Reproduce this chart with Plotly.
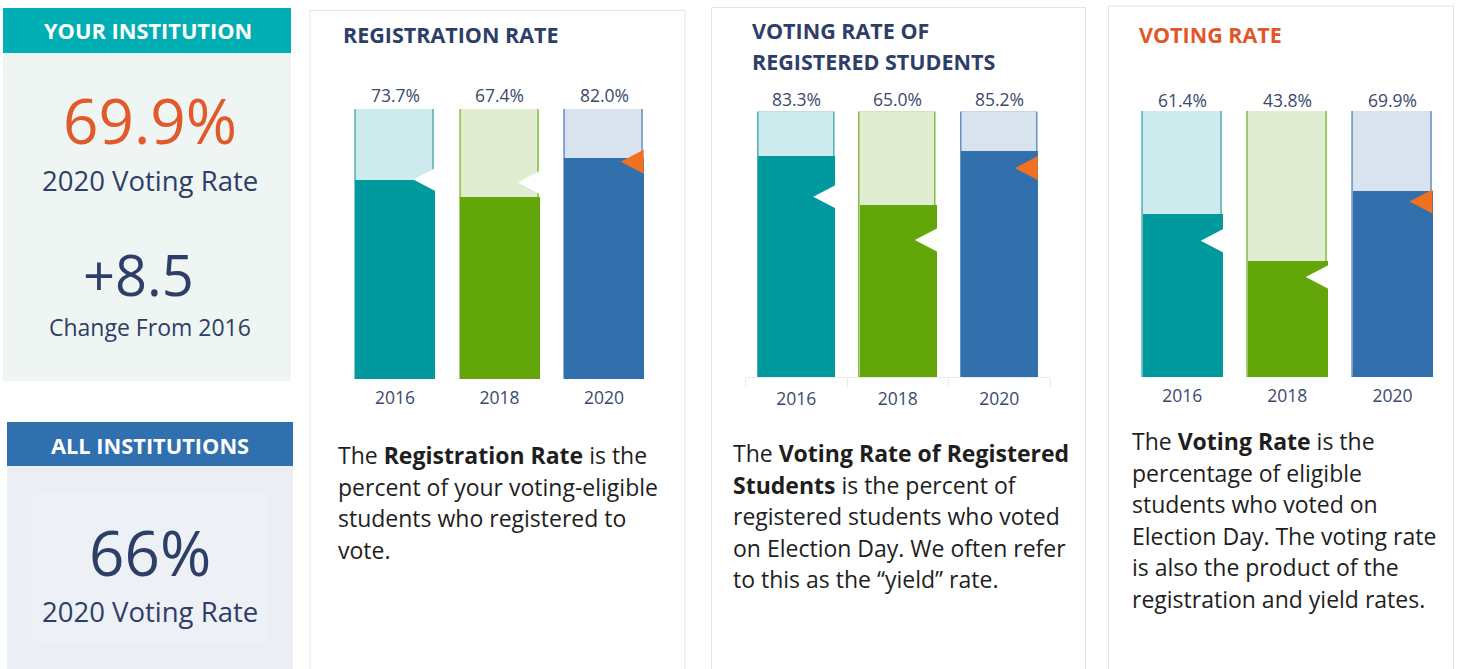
import plotly.graph_objects as go

W, H = 1458, 669

# ---------------- data ----------------
years = ["2016", "2018", "2020"]
registration_rate = [73.7, 67.4, 82.0]
yield_rate = [83.3, 65.0, 85.2]
voting_rate = [61.4, 43.8, 69.9]
# comparison markers (all institutions)
all_registration_rate = [73.9, 72.8, 80.5]
all_yield_rate = [67.9, 51.7, 78.7]
all_voting_rate = [51.3, 37.7, 66.0]
scale_max = 100

your_voting_2020 = 69.9
change_from_2016 = 8.5
all_voting_2020 = 66

# ---------------- style ----------------
FONT = "Open Sans"
DARK = ["#009A9E", "#63A60A", "#3170AC"]
LIGHT = ["#CDEAEC", "#E0EDD0", "#D8E3EE"]
EDGE = ["#45A9AE", "#7DB83A", "#5B88C0"]
ORANGE = "#F07122"
TITLE_ORANGE = "#E0582A"
NAVY = "#2D3E68"
LABEL = "#3B4A6E"
BODY = "#1E1E1E"
BAR_W = 0.75


def X(px):
    return px / W


def Y(py):
    return 1 - py / H


panels = [
    dict(vals=registration_rate, comp=all_registration_rate, xd=(342.75, 656.25), yd=(379.0, 109.0),
         lab_y=95, card=(310, 10.5, 685),
         titles=[("REGISTRATION RATE", 341, 34)], tcolor=NAVY, axisline=False,
         text_x=336, text_y0=455,
         lines=["The <b>Registration Rate</b> is the", "percent of your voting-eligible",
                "students who registered to", "vote."]),
    dict(vals=yield_rate, comp=all_yield_rate, xd=(745.5, 1050.0), yd=(377.3, 111.5),
         lab_y=99, card=(711.5, 7.5, 1085.5),
         titles=[("VOTING RATE OF", 750, 31), ("REGISTERED STUDENTS", 750, 61)], tcolor=NAVY, axisline=True,
         text_x=731, text_y0=453,
         lines=["The <b>Voting Rate of Registered</b>", "<b>Students</b> is the percent of",
                "registered students who voted", "on Election Day. We often refer",
                "to this as the \u201cyield\u201d rate."]),
    dict(vals=voting_rate, comp=all_voting_rate, xd=(1129.75, 1445.0), yd=(377.3, 111.0),
         lab_y=100, card=(1108.5, 6, 1453.5),
         titles=[("VOTING RATE", 1137, 35)], tcolor=TITLE_ORANGE, axisline=False,
         text_x=1130, text_y0=441,
         lines=["The <b>Voting Rate</b> is the", "percentage of eligible", "students who voted on",
                "Election Day. The voting rate", "is also the product of the",
                "registration and yield rates."]),
]

fig = go.Figure()
shapes = []
annotations = []


def add_text(text, x, y, size, color, bold=False, xanchor="center", yanchor="middle"):
    if bold:
        text = "<b>" + text + "</b>"
    annotations.append(dict(text=text, x=X(x), y=Y(y), xref="paper", yref="paper",
                            xanchor=xanchor, yanchor=yanchor, showarrow=False,
                            font=dict(family=FONT, size=size, color=color)))


# ---------------- left column ----------------
shapes += [
    dict(type="rect", xref="paper", yref="paper", x0=X(3), x1=X(291), y0=Y(53), y1=Y(8),
         fillcolor="#00AEB4", line=dict(width=0), layer="below"),
    dict(type="rect", xref="paper", yref="paper", x0=X(3), x1=X(291), y0=Y(381), y1=Y(53),
         fillcolor="#EFF5F2", line=dict(width=0), layer="below"),
    dict(type="rect", xref="paper", yref="paper", x0=X(7), x1=X(293), y0=Y(466), y1=Y(422),
         fillcolor="#3070AE", line=dict(width=0), layer="below"),
    dict(type="rect", xref="paper", yref="paper", x0=X(7), x1=X(293), y0=-0.01, y1=Y(466),
         fillcolor="#EBEEF3", line=dict(width=0), layer="below"),
    dict(type="rect", xref="paper", yref="paper", x0=X(33), x1=X(268), y0=Y(645), y1=Y(493),
         fillcolor="#EDF0F5", line=dict(width=0), layer="below"),
]
add_text("YOUR INSTITUTION", 148, 31, 21.8, "white", bold=True)
add_text(f"{your_voting_2020:.1f}%", 150, 120, 62, "#E15A2B")
add_text("2020 Voting Rate", 150, 181, 27.5, NAVY)
add_text(f"+{change_from_2016:.1f}", 138, 274, 56, NAVY)
add_text("Change From 2016", 150, 327, 23, NAVY)
add_text("ALL INSTITUTIONS", 150, 445, 21.8, "white", bold=True)
add_text(f"{all_voting_2020}%", 150, 552, 62, NAVY)
add_text("2020 Voting Rate", 150, 611, 27.5, NAVY)

# ---------------- panels ----------------
TRI_W_PX, TRI_H_PX = 23, 12

for k, p in enumerate(panels, start=1):
    xa = "x" if k == 1 else f"x{k}"
    ya = "y" if k == 1 else f"y{k}"
    cx0, cy0, cx1 = p["card"]
    shapes.append(dict(type="rect", xref="paper", yref="paper", x0=X(cx0), x1=X(cx1),
                       y0=-0.02, y1=Y(cy0), fillcolor="white",
                       line=dict(color="#E4E4E4", width=1), layer="below"))
    xs = list(range(len(years)))
    # background (scale) bars
    fig.add_trace(go.Bar(x=xs, y=[scale_max] * len(years), width=BAR_W, xaxis=xa, yaxis=ya,
                         marker=dict(color=LIGHT, line=dict(color=EDGE, width=1.4)),
                         cliponaxis=False, hoverinfo="skip", showlegend=False))
    # value bars
    fig.add_trace(go.Bar(x=xs, y=p["vals"], width=BAR_W + 0.012, xaxis=xa, yaxis=ya,
                         marker=dict(color=DARK, line=dict(width=0)),
                         cliponaxis=False, showlegend=False))
    # comparison triangles
    px_per_x = (p["xd"][1] - p["xd"][0]) / 3.0
    px_per_y = (p["yd"][0] - p["yd"][1]) / 100.0
    dw = TRI_W_PX / px_per_x
    dh = TRI_H_PX / px_per_y
    for i, v in enumerate(p["comp"]):
        last = i == len(years) - 1
        col = ORANGE if last else "white"
        xr = i + BAR_W / 2 + (0.5 / px_per_x if last else 2.0 / px_per_x)
        fig.add_trace(go.Scatter(x=[xr, xr - dw, xr, xr], y=[v + dh, v, v - dh, v + dh],
                                 xaxis=xa, yaxis=ya, mode="lines", fill="toself",
                                 fillcolor=col, line=dict(width=0, color=col),
                                 hoverinfo="skip", showlegend=False))
    # value labels
    for i, v in enumerate(p["vals"]):
        annotations.append(dict(text=f"{v:.1f}%", x=i, xref=xa, y=Y(p["lab_y"]), yref="paper",
                                showarrow=False, xanchor="center", yanchor="middle",
                                font=dict(family=FONT, size=17.5, color=LABEL)))
    # titles
    for t, tx, ty in p["titles"]:
        add_text(t, tx, ty, 21.5, p["tcolor"], bold=True, xanchor="left")
    # descriptions
    for j, line in enumerate(p["lines"]):
        add_text(line, p["text_x"], p["text_y0"] + 31.5 * j, 23, BODY, xanchor="left")

    xaxis = dict(domain=[X(p["xd"][0]), X(p["xd"][1])], range=[-0.5, 2.5], anchor=ya,
                 tickvals=xs, ticktext=years, ticks="", showgrid=False, zeroline=False,
                 ticklabelstandoff=6,
                 tickfont=dict(family=FONT, size=17.5, color=LABEL), fixedrange=True)
    if p["axisline"]:
        xaxis.update(showline=True, linecolor="#EBEBEB", linewidth=1,
                     minor=dict(tickvals=[-0.5, 0.5, 1.5, 2.5], ticks="outside", ticklen=9,
                                tickcolor="#EBEBEB", tickwidth=1))
    yaxis = dict(domain=[Y(p["yd"][0]), Y(p["yd"][1])], range=[0, 100], anchor=xa,
                 visible=False, fixedrange=True)
    fig.layout[f"xaxis{'' if k == 1 else k}"] = xaxis
    fig.layout[f"yaxis{'' if k == 1 else k}"] = yaxis

fig.update_layout(width=W, height=H, margin=dict(l=0, r=0, t=0, b=0),
                  paper_bgcolor="white", plot_bgcolor="rgba(0,0,0,0)",
                  barmode="overlay", bargap=0, showlegend=False,
                  shapes=shapes, annotations=annotations,
                  font=dict(family=FONT))

fig.write_html("out.html")
